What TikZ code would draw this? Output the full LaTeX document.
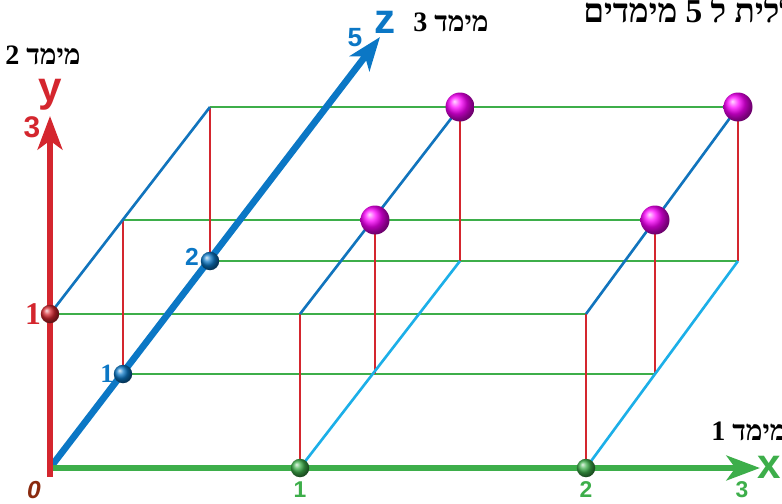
\documentclass[tikz,border=0pt]{standalone}
\usepackage{fontspec}
\usepackage{tikz}
\usetikzlibrary{arrows.meta}
\TeXXeTstate=1
\newfontfamily\hebfont[Script=Hebrew]{Liberation Serif}
\newfontfamily\lblfont{Liberation Sans}
\newfontfamily\numfont{Liberation Serif}
\definecolor{axgreen}{HTML}{3DAE4A}
\definecolor{axred}{HTML}{D4262E}
\definecolor{axblue}{HTML}{0B77C5}
\definecolor{lineblue}{HTML}{1174BD}
\definecolor{linecyan}{HTML}{1CAFE8}
\definecolor{zerobrown}{HTML}{8A2A0E}

\begin{document}
\begin{tikzpicture}[x=0.02cm,y=-0.02cm,
  heb/.style={font=\hebfont\bfseries\fontsize{16}{16}\selectfont,inner sep=0pt},
  axlbl/.style={font=\lblfont\bfseries\fontsize{24}{24}\selectfont,inner sep=0pt},
  numlbl/.style={font=\lblfont\bfseries\fontsize{13}{13}\selectfont,inner sep=0pt},
  onelbl/.style={font=\numfont\bfseries\fontsize{18}{18}\selectfont,inner sep=0pt},
  axis/.style={line width=3.8pt,-{Stealth[length=19pt,width=14pt,inset=5pt]}},
  gridline/.style={line width=1.5pt},
  ball/.style={circle,inner sep=0pt,minimum size=0.37cm,shade},
  bigball/.style={circle,inner sep=0pt,minimum size=0.58cm,shade,ball color=magenta}]
\useasboundingbox (0,0) rectangle (782,504);

% grid corners, b = bottom layer, t = top layer
\foreach \i/\k/\px/\py in {0/0/50/468,0/1/123/374,0/2/210/261,
                           1/0/300/468,1/1/375/374,1/2/460/261,
                           2/0/586/468,2/1/655/374,2/2/738/261}{
  \coordinate (b\i\k) at (\px,\py);
  \coordinate (t\i\k) at (\px,\py-154);
}
\coordinate (xend) at (760,468);
\coordinate (yend) at (50,116);
\coordinate (zend) at (380,37);

% grid lines
\foreach \k in {1,2} \draw[gridline,axgreen] (b0\k) -- (b2\k);
\foreach \k in {0,1,2} \draw[gridline,axgreen] (t0\k) -- (t2\k);
\foreach \i/\k in {0/1,0/2,1/0,1/1,1/2,2/0,2/1,2/2}
  \draw[gridline,axred] (b\i\k) -- (t\i\k);
\foreach \i in {0,1,2} \draw[gridline,lineblue] (t\i0) -- (t\i2);
\foreach \i in {1,2} \draw[gridline,linecyan] (b\i0) -- (b\i2);

% axes
\draw[axis,axblue] (b00) -- (zend);
\draw[axis,axred] ([yshift=-5pt]b00) -- (yend);
\draw[axis,axgreen] ([xshift=1.5pt]b00) -- (xend);

% points
\node[ball,ball color=axred] (ry1) at (t00) {};
\node[ball,ball color=axblue] (bz1) at (b01) {};
\node[ball,ball color=axblue] (bz2) at (b02) {};
\node[ball,ball color=axgreen] (gx1) at (b10) {};
\node[ball,ball color=axgreen] (gx2) at (b20) {};
\node[bigball] (m11) at (t11) {};
\node[bigball] (m12) at (t12) {};
\node[bigball] (m21) at (t21) {};
\node[bigball] (m22) at (t22) {};

% labels
\node[axlbl,axred] (ylbl) at (50,95) {y};
\node[axlbl,axgreen] (xlbl) at (769,467) {x};
\node[axlbl,axblue] (zlbl) at (385,22) {z};
\node[numlbl,axred,font=\lblfont\bfseries\fontsize{17}{17}\selectfont] (y3) at (32,127) {3};
\node[numlbl,axblue,font=\lblfont\bfseries\fontsize{15}{15}\selectfont] (z5) at (355,38) {5};
\node[numlbl,axblue,font=\lblfont\bfseries\fontsize{14}{14}\selectfont] (z2) at (192,257) {2};
\node[onelbl,axred] (y1) at (33,314) {1};
\node[onelbl,axblue,font=\numfont\bfseries\fontsize{15}{15}\selectfont] (z1) at (107,374) {1};
\node[numlbl,axgreen] (x1) at (300,490) {1};
\node[numlbl,axgreen] (x2) at (586,490) {2};
\node[numlbl,axgreen] (x3) at (742,490) {3};
\node[numlbl,zerobrown,font=\lblfont\bfseries\itshape\fontsize{14}{14}\selectfont] (o) at (34,490) {0};

\node[heb,anchor=west] (dim2) at (5,55) {\beginR מימד 2\endR};
\node[heb,anchor=west] (dim3) at (413,22) {\beginR מימד 3\endR};
\node[heb,anchor=west] (dim1) at (711,431) {\beginR מימד 1\endR};
\node[heb,anchor=west,font=\hebfont\bfseries\fontsize{19}{19}\selectfont] (ttl) at (583,9) {\beginR כללית ל 5 מימדים\endR};
\end{tikzpicture}
\end{document}
